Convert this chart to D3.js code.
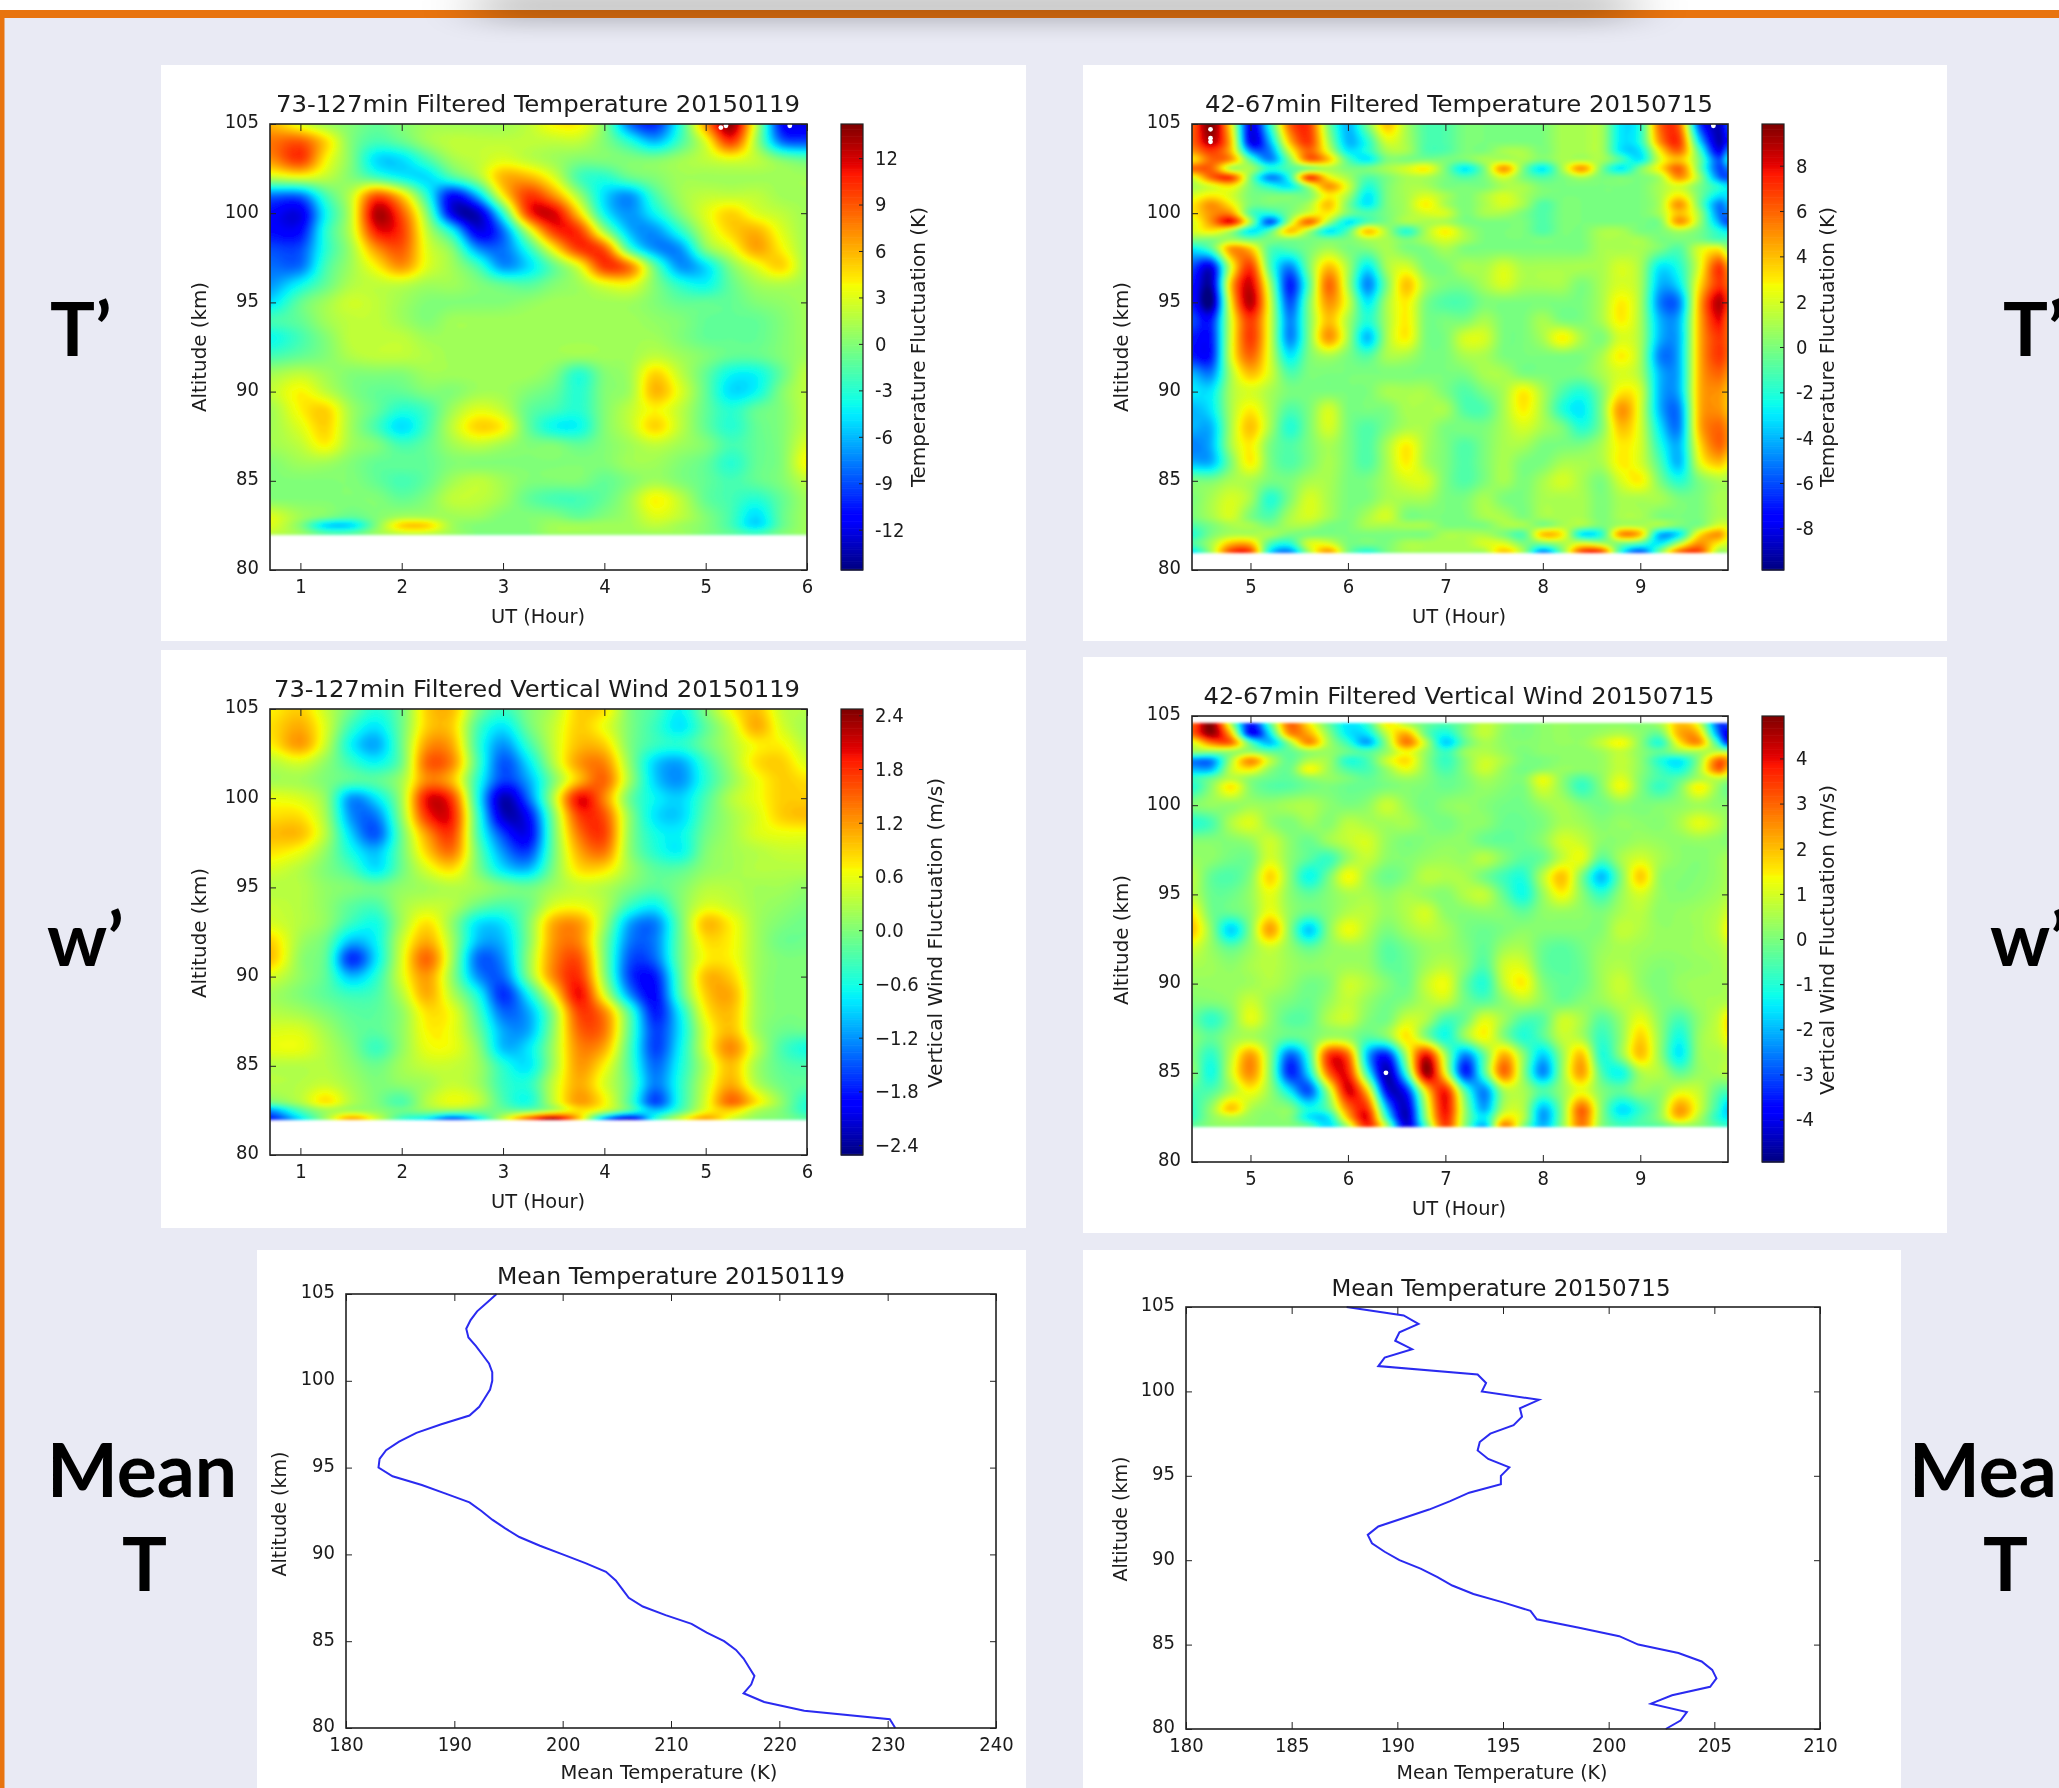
<!DOCTYPE html>
<html>
<head>
<meta charset="utf-8">
<script src="https://cdn.jsdelivr.net/npm/d3@7"></script>
<style>
    body { margin: 0; background: #fff; }
    svg { display: block; }
    text { font-family: "DejaVu Sans Condensed", "DejaVu Sans", sans-serif; fill: #1a1a1a; }
    .side { font-family: Lato, sans-serif; font-weight: 700; fill: #000; font-size: 75px; }
</style>
</head>
<body>
<svg id="page" width="2059" height="1788"></svg>
<script>
// hours of the January panels
const janHours = [0.7, 1, 1.25, 1.5, 1.75, 2, 2.25, 2.5, 2.75, 3, 3.25, 3.5, 3.75, 4, 4.25, 4.5, 4.75, 5, 5.25, 5.5, 5.75, 6];
// hours of the July panels
const julHours = [4.4, 4.6, 4.8, 5, 5.2, 5.4, 5.6, 5.8, 6, 6.2, 6.4, 6.6, 6.8, 7, 7.2, 7.4, 7.6, 7.8, 8, 8.2, 8.4, 8.6, 8.8, 9, 9.2, 9.4, 9.6, 9.8, 9.9];

const janTempAlt = [105, 104, 103, 102, 101, 100, 99, 98, 97, 96, 95, 94, 93, 92, 91, 90, 89, 88, 87, 86, 85, 84, 83, 82.5, 82];
const janTemp = [
    [6, 3, 1, 0, -1, 0, 1, 1, 1, 1, 2, 4, 4, 0, -8, -10, -3, 7, 14, 2, -11, -12],
    [8, 9, 5, 0, -2, -1, 1, 2, 2, 2, 2, 2, 2, 0, -3, -6, -2, 3, 10, 1, -8, -9],
    [7, 10, 4, 0, -5, -5, -2, 1, 2, 3, 2, 1, 0, 0, 0, 0, 1, 2, 3, 2, 0, -1],
    [2, 3, 2, 0, -2, -4, -5, -2, 1, 6, 6, 3, -2, -3, -1, 0, 1, 1, 1, 1, 1, 1],
    [-8, -8, -2, 2, 9, 5, -3, -11, -6, 4, 10, 7, 1, -5, -7, -2, 1, 2, 2, 2, 1, 1],
    [-11, -12, -4, 2, 13, 9, 0, -12, -13, -3, 10, 12, 5, -4, -7, -4, 0, 3, 5, 3, 2, 1],
    [-11, -11, -3, 2, 11, 10, 2, -4, -12, -8, 2, 10, 10, 1, -6, -7, -3, 2, 5, 6, 3, 1],
    [-9, -9, -3, 1, 7, 9, 3, 0, -7, -8, -3, 4, 10, 9, -2, -7, -7, 0, 3, 6.5, 4, 1],
    [-8, -8, -2, 1, 4, 7, 3, 1, -2, -7, -5, -1, 3, 10, 8, -1, -7, -5, 0, 3, 5, 1],
    [-7, -4, -1, 1.5, 2, 2, 1, 1, 0, -1, -1.5, 0, 1, 3, 3.5, 0, -3, -4, -1, 1, 1.5, 1],
    [-5, -1, 1, 2.5, 2, 1, 0, 0, 0, 0, 0.5, 1, 1, 1, 1, 0, -1, -1, -1, 0, 0.5, 1],
    [-2, -1, 1, 2, 2, 1, 0, 1, 1, 1, 1, 1, 1, 1, 1, 0.5, 0, -1, -1, -1, 0, 1],
    [-4, -2, 0, 2, 2, 2, 1, 1, 1, 1, 1, 1, 1, 1, 1, 1, 0, -1, -1, -1, 0, 1],
    [-2, -1, 0, 1.5, 2, 2, 1.5, 1, 1, 1, 1, 1, 1, 1, 1, 2, 1, 0, -1, -1, 0, 1],
    [1, 2, 1, 0, 0, 0, 1, 1, 1, 1, 1, 0, -3, 0, 1, 5, 2, -1, -4, -4, -1, 2],
    [2, 4, 2, 0, -1, -1, 0, 0, 1, 1, 0, -1, -3, 0, 1, 6, 3, -1, -5, -4, 0, 2],
    [1, 4, 5, 1, -1, -3, -2, 1, 3, 2, -1, -2, -3, 0, 2, 4, 2, -1, -3, -1, 0, 2],
    [1, 3, 5, 1, -2, -5, -2, 2, 5, 4, -1, -4, -4, 0, 2, 5, 2, -1, -3, -1, 0, 2],
    [1, 2, 4, 1, 0, -2, -1, 1, 2, 1, 0, 0, -1, 0, 1, 2, 1, 0, -2, -1, 0, 3],
    [0, 1, 1, 0, -1, -1, -1, 0, 0, 0, 0, 0, 0, 0, 1, 1, 0, -1, -3, -1, 0, 4],
    [0, 0, 0, 0, -1, -2, -1, 1, 2, 1, 0, 0, 0, -1, 0, 1, 0, -1, -2, -1, 0, 2],
    [0, 0, 0, 0, 0, -1, 0, 2, 2, 1, -1, -2, -2, -1, 1, 4, 2, -1, -2, -3, -1, 1],
    [3, 1, 0, -1, 0, 1, 1, 1, 1, 0, 0, 0, -1, 0, 1, 3, 2, 0, -2, -5, -1, 1],
    [3, 0, -5, -5, 0, 5, 5, 1, 0, 0, 0, 1, 1, 1, 1, 2, 1, 0, -2, -5, -1, 1],
    [2, 1, -1, -1, 1, 2, 2, 1, 0, 0, 0, 1, 1, 1, 1, 1, 1, 0, -1, -2, 0, 1]
];
// places where the plot shows white specks, [hour, altitude]
const janTempSpecks = [[5.15, 104.8], [5.2, 104.9], [5.83, 104.9]];

const julTempAlt = [105, 104, 103.5, 103, 102.5, 102, 101.5, 101, 100.5, 100, 99.5, 99, 98.5, 98, 97, 96, 95, 94, 93, 92, 91, 90, 89, 88, 87, 86, 85, 84, 83, 82.5, 82, 81.5, 81];
const julTemp = [
    [6, 10, 3, -8, -2, 6, 7, 0, -4, 0, 4, 1, -1, -1, 0, 0, 0, 0, 0, 1, 1, 1, -3, -2, 6, 6, -6, -9, -6],
    [6, 9, 4, -8, -4, 4, 7, 1, -4, -2, 2, 1, -1, -1, 0, 0, 0, 0, 0, 1, 1, 1, -3, -2, 5, 7, -3, -9, -7],
    [5, 7, 4, -5, -5, 2, 6, 2, -3, -2, 1, 1, -1, -1, 0, 0, 1, 1, 0, 1, 1, 1, -3, -3, 3, 6, -1, -8, -5],
    [3, 6, 5, -1, -5, 0, 6, 4, -1, -3, 0, 0, 0, 0, 0, 1, 1, 1, 0, 1, 1, 1, -1, -3, 2, 4, 0, -6, -3],
    [6, 6, 1, 1, -2, -1, 0, 1, 0, 0, 1, 2, 3, 0, -3, 0, 5, 0, -3, 1, 5, 0, -3, 0, 3, 6, 0, -6, -5],
    [2, 6, 7, 0, -5, -2, 7, 3, 1, -1, 0, 1, 1, 0, -1, 0, 2, 0, -1, 0, 1, 0, 0, 0, 1, 5, 1, -5, -6],
    [1, 2, 3, 0, -2, -3, 1, 5, 2, -2, 0, 1, 1, 0, 0, 0, 1, 1, 0, 0, 0, 0, 0, 0, 1, 2, 0, -2, -3],
    [2, 3, 2, 0, 0, 0, 0, 3, 1, -3, 0, 1, 2, 1, 0, 1, 2, 1, 0, 0, 0, 0, 0, 0, 1, 3, 0, -3, -3],
    [3, 5, 3, 0, 0, 0, 1, 4, 0, -3, 0, 1, 3, 1, 0, 1, 2, 1, -1, 0, 0, 0, 0, 0, 1, 5, 0, -5, -4],
    [3, 5, 5, -1, -2, 0, 2, 3, 0, -1, 0, 1, 2, 2, 0, 1, 1, 0, -1, 0, 0, 0, 0, 0, 1, 4, 1, -5, -5],
    [2, 5, 8, 1, -6, 1, 6, 1, -3, -1, 0, 1, 1, 1, 0, 0, 0, 0, -1, 0, 0, 0, 0, 0, 0, 5, 1, -4, -6],
    [2, 3, 1, -3, -1, 4, 1, -3, -1, 4, 1, -2, 1, 3, 1, 0, 0, 0, -1, 0, 0, 1, 1, 0, 0, 1, 0, -2, -3],
    [0, 0, 1, 0, 0, 0, 0, 0, 0, 1, 1, 0, 1, 2, 1, 0, 0, 0, 0, 0, 0, 1, 1, 1, 0, 0, 0, -1, -1],
    [-3, -1, 5, 4, -1, -1, 0, 1, 0, 0, 1, 0, 0, 1, 0, 0, 0, 0, 0, 0, 0, 1, 1, 1, 0, -1, 2, 3, 1],
    [-6, -8, 2, 7, -1, -5, 0, 4, 1, -3, 1, 2, 0, 0, 1, 1, 2, 1, 1, 1, 1, 1, 2, 1, -3, -2, 2, 7, 5],
    [-7, -9, 4, 8.5, 1, -7, -1, 6, 1, -5, 0, 4, 1, 0, 0, 1, 2, 1, 1, 1, 0, 1, 2, 1, -4, -3, 3, 7, 6],
    [-7, -10, 3, 9, 2, -6, 0, 5, 2, -3, 1, 3, 0, -1, -1, 0, 0, 0, 0, 0, 0, 1, 3, 1, -5, -5, 4, 9, 7],
    [-6, -7, 2, 7, 2, -5, 0, 4, 1, -2, 1, 3, 0, 0, 0, 1, 0, 0, 1, 0, 0, 1, 3, 1, -4, -4, 4, 8, 6],
    [-7, -7, 2, 7, 2, -5, 0, 5, 1, -4, 1, 3, 0, 0, 2, 2, 0, 0, 1, 3, 1, 0, 2, 1, -4, -4, 4, 7, 6],
    [-7, -7, 2, 6, 2, -3, 0, 1, 0, -1, 1, 1, 0, 0, 1, 1, 0, 0, 0, 0, 0, 1, 3, 1, -5, -4, 4, 7, 6],
    [-4, -5, 1, 4, 2, -1, 0, 0, 0, 0, 0, 0, 0, 0, 0, 1, 1, 0, 0, 0, 0, 1, 2, 1, -4, -4, 4, 6, 5],
    [-3, -3, 1, 2, 1, 0, 0, 0, 0, 0, 1, 1, 1, 0, -1, 0, 1, 3, 1, -1, -2, 0, 3, 2, -4, -4, 4, 5, 4],
    [-4, -3, 1, 3, 1, -1, 0, 2, 0, 0, 0, 1, 1, 1, -1, -1, 1, 3, 1, -2, -3, 0, 5, 2, -4, -5, 4, 5, 4],
    [-4, -4, 1, 4, 1, -2, 0, 2, 0, -1, 0, 1, 1, 0, 0, 0, 1, 2, 1, 0, -2, 0, 4, 2, -3, -5, 4, 6, 5],
    [-5, -4, 1, 3, 0, -1, 0, 1, 0, -1, 1, 3, 1, 0, -1, 0, 1, 1, 0, 0, 0, 1, 3, 2, -2, -4, 3, 6, 5],
    [-4, -4, 0, 3, 0, -1, 0, 1, 0, -1, 1, 3, 1, 0, -1, 0, 1, 0, 0, 1, 1, 1, 3, 2, -1, -4, 2, 4, 3],
    [0, 0, 1, 1, 0, 0, 1, 1, 0, 0, 1, 2, 2, 0, -1, 0, 1, 0, 1, 2, 1, 0, 2, 3, 0, -2, 0, 1, 1],
    [0, 1, 2, 1, -2, 0, 2, 1, 0, 0, 1, 1, 1, 0, 0, 1, 0, 0, 1, 1, 1, 0, 1, 1, 1, 0, 0, 1, 1],
    [0, 1, 2, 0, -1, 1, 2, 1, 0, 1, 2, 0, 0, 0, 0, 1, 1, 0, 1, 1, 1, 0, 1, 1, 0, 0, 0, 1, 1],
    [-1, 0, 1, 1, 0, 1, 1, 0, 0, 1, 1, 1, 1, 0, 0, 0, 1, 1, 0, 1, 1, 0, 1, 1, 1, 0, 0, 2, 2],
    [-2, 0, 1, 1, 1, 0, 0, 0, 0, 0, 0, 0, 0, 1, 1, 1, 0, -1, 4, 3, -3, -2, 5, 4, -4, -3, 3, 5, 3],
    [-1, 1, 4, 4, -1, -2, 2, 2, 0, 0, 0, 1, 1, 1, 1, 2, 2, 0, 0, 1, 2, 1, 0, -1, -3, 1, 5, 3, 2],
    [-3, 1, 7, 7, -3, -5, 1, 5, 0, -2, 0, 1, 1, 1, 1, 1, 4, 1, -5, 0, 7, 7, -2, -6, 0, 6, 7, 1, 1]
];
const julTempSpecks = [[4.59, 104.7], [4.59, 104.2], [4.59, 104], [9.75, 104.9]];

const janWindAlt = [105, 104, 103, 102, 101, 100, 99, 98, 97, 96, 95, 94, 93, 92, 91, 90, 89, 88, 87, 86, 85, 84, 83, 82.5, 82];
const janWind = [
    [.7, .9, .4, -.1, -.5, -.1, .9, 1, 0, -.4, 0, .3, .9, .8, 0, -.3, -.7, 0, .7, 1, .4, .3],
    [.8, 1.1, .5, -.4, -.8, -.1, .9, .9, -.3, -.8, -.1, .4, .9, .6, 0, -.4, -.8, -.2, .4, 1.1, .5, .2],
    [.7, 1.2, .4, -.7, -1.1, -.1, 1.2, 1.1, -.4, -1.2, -.4, .4, 1, .9, 0, -.4, -.5, -.1, .3, .7, .7, .3],
    [.3, .5, .1, -.4, -.7, -.1, 1.5, 1.3, -.3, -1.5, -.8, .3, 1.2, 1.3, .1, -.9, -1.1, -.4, .2, .8, .9, .5],
    [.2, .2, 0, -.2, -.2, .2, 1.3, 1, -.5, -1.6, -1.1, 0, 1, 1.5, .2, -.9, -1.2, -.5, .1, .6, .9, .8],
    [.6, .5, .1, -1.2, -.8, .2, 2, 1.7, -.6, -2.3, -1.4, .3, 2, 1.3, -.1, -.7, -.9, -.3, .3, .6, .9, .9],
    [.8, .8, .2, -1.2, -1.3, .1, 1.8, 1.9, -.4, -2.2, -1.9, 0, 1.7, 1.6, .1, -.8, -.9, -.2, .2, .5, .9, 1],
    [1, 1, .3, -.9, -1.5, -.1, 1.2, 1.7, -.3, -1.6, -2, -.1, 1.4, 1.7, .1, -.6, -.7, -.1, .2, .5, .6, .6],
    [.8, .6, .1, -.6, -1, -.1, .9, 1.4, -.1, -1.2, -1.6, -.1, 1.1, 1.4, .1, -.5, -.7, 0, .2, .3, .4, .4],
    [.5, .3, 0, -.3, -.8, -.1, .5, .8, 0, -.8, -1, 0, .8, .8, .2, -.2, -.2, .1, .2, .3, .3, .3],
    [.3, .3, .1, 0, -.1, .1, .2, .3, .2, 0, -.1, .2, .4, .3, 0, -.2, 0, .3, .3, .2, .2, .1],
    [.4, .3, .1, -.2, -.3, .2, .4, .3, -.1, -.3, -.1, .5, .6, .3, -.4, -.7, 0, .5, .4, .2, .1, 0],
    [.5, .3, .1, -.4, -.6, .2, .8, .1, -.8, -.8, 0, 1.1, 1.2, .2, -1.1, -1.3, -.1, 1, .7, .2, 0, -.1],
    [.9, .2, -.1, -1, -.7, .4, 1.1, .2, -1, -1, 0, 1.2, 1.3, 0, -1.3, -1.3, -.1, .8, .7, .2, -.1, -.1],
    [1, .1, -.2, -1.7, -.8, .5, 1.5, .2, -1.4, -1.2, .1, 1.3, 1.6, 0, -1.5, -1.4, -.1, .7, .7, .2, 0, 0],
    [.5, .1, -.2, -1, -.5, .5, 1.2, .1, -1.2, -1.4, 0, 1.3, 1.8, .1, -1.6, -1.8, -.2, 1, .9, .2, 0, 0],
    [.2, 0, -.2, -.4, -.3, .3, 1.1, .3, -.6, -1.7, -.7, .7, 2, .5, -1.2, -1.9, -.3, .9, 1.1, .2, 0, 0],
    [.3, .2, 0, -.2, -.2, .1, .8, .6, -.3, -1.4, -1.1, .1, 1.7, 1.3, -.3, -1.8, -.7, .7, 1, .2, 0, 0],
    [.5, .5, .2, -.1, -.2, .1, .7, .6, -.1, -1.1, -1.1, .1, 1.5, 1.4, -.2, -1.6, -.8, .5, 1, .2, -.1, -.1],
    [.6, .6, .3, 0, -.4, .1, .6, .6, .1, -1, -.8, .2, 1.3, 1.1, -.3, -1.6, -.7, .5, 1.3, .4, -.3, -.6],
    [.3, .3, .3, .1, -.1, .2, .4, .4, .2, -.5, -.8, .2, 1.2, .7, -.3, -1.4, -.6, .3, 1, .2, -.2, -.3],
    [.3, .3, .4, .2, 0, .1, .2, .4, .2, -.4, -.5, .4, 1.1, .5, -.2, -1.3, -.5, .4, 1.1, .3, -.1, -.2],
    [0, .3, .8, .3, 0, -.3, .3, .6, .4, -.3, -.6, .4, 1.2, .7, -.3, -1.6, -.5, .5, 1.5, .8, .1, -.5],
    [-1.2, -.3, .2, .2, .1, -.1, .1, .1, 0, -.1, -.1, .3, .8, .4, -.3, -1, -.3, .6, .9, .3, 0, -.5],
    [-1.8, -.8, .2, 1.2, .5, -.4, -.8, -1.6, -.8, .4, 1.6, 2.4, 1, -1.2, -2.2, -.5, .5, 1.2, .5, .1, 0, -.2]
];

const julWindAlt = [104.6, 104, 103.5, 103, 102.5, 102, 101.5, 101, 100, 99, 98, 97, 96, 95, 94, 93, 92, 91, 90, 89, 88, 87, 86, 85, 84, 83, 82.5, 82];
const julWind = [
    [3, 4.9, .5, -3.5, -.5, 3, 1.5, -.3, -1.5, -.8, 1.5, .5, -.2, -.5, 0, .8, .3, 0, .2, .3, .2, .2, .2, .1, .5, 2, 1, -3, -3],
    [3, 4.8, 2, -3.8, -1.5, 2.5, 2.2, .2, -1.5, -1.5, .8, 2.2, -.2, -1.2, 0, .8, .2, 0, .2, .3, .2, .4, .6, .2, -.2, 2.2, 2, -2.5, -4],
    [1, 2.8, 3, -.5, -2, .3, 2.6, .5, -.8, -2.2, .3, 2.8, .7, -1.8, -.3, .5, .2, .1, .2, .3, .3, .8, 1.4, .2, -1, 1.5, 2.5, -1, -3.5],
    [.3, .2, .3, .3, -.3, -.3, .3, .3, -.2, -.5, .3, 1.4, .3, -.8, .3, .6, .3, 0, .2, .2, .2, .4, .8, .2, -.3, .3, .5, .7, .5],
    [-2.5, -2.5, .5, 2.6, .8, -.3, .6, .4, -1, -.6, .9, 1.7, .2, -.8, .1, .9, .5, 0, 0, .2, .2, .3, .8, .2, -1, -1.5, .2, 3, 2.5],
    [-2, -2, .8, 1.5, .2, -.2, 1.4, .4, -.5, -.6, .3, 1.2, .2, -.6, .1, .9, .3, -.1, .2, .3, .2, .3, .8, .2, -.7, -1.2, .4, 3, 2],
    [-.8, -.2, .7, .2, -.2, -.3, .2, .3, 0, -.3, .1, .4, .1, -.3, 0, .5, .2, .1, 1.2, .2, -.5, .2, 1.1, .1, -.6, -.4, .5, .8, .5],
    [-1, .2, 1.6, .1, -.4, -.4, -.1, 0, -.2, -.2, 0, .1, 0, -.2, 0, .3, .1, 0, 1, .2, -.8, .1, 1.3, .1, -.8, 0, 1.5, .3, -.2],
    [.1, .3, .2, .4, .3, .5, .6, .2, 0, .2, .9, .3, -.1, .2, .3, .1, -.1, -.1, .3, .5, .1, -.1, .2, 0, .1, .2, .4, .2, .2],
    [-1, -.6, .6, 1.1, .3, 0, .4, .1, .7, .5, .4, .5, .1, -.1, .2, .2, -.2, -.2, 0, .5, .4, .1, .3, .2, .1, .5, 1.2, .7, .3],
    [.1, .1, .1, .3, .9, .2, -.2, .4, .8, 1, .3, 0, .1, .2, .2, -.2, -.3, -.2, .2, 1, .8, .2, .2, .4, .3, .2, .3, .2, .1],
    [.3, .2, -.1, -.1, 1, .2, -.4, -.8, .3, .8, .2, .1, .3, .4, .3, .7, .1, -.4, -.2, .8, 1.2, -.4, .5, 1, .5, .2, .1, .3, .5],
    [.7, -.3, -.5, .1, 1.8, .2, -1.3, -.1, 1.4, .4, -.2, .1, .7, .6, .5, -.1, -.7, -1, .7, 2, 0, -2, 0, 1.9, .3, .1, .1, .3, .5],
    [.7, -.2, -.2, .3, 1.2, .2, -.3, .1, .5, .5, .2, .5, .3, .1, .6, .8, -.3, -1.2, .3, 1.4, .2, -.8, .3, 1, .3, .1, .2, .4, .6],
    [1.5, -.1, -.2, .2, 1.3, .3, -.2, .1, .6, .7, .3, .6, 1, .2, .1, .2, .1, -.3, .2, .3, .2, 0, .5, .7, .2, .3, .4, .6, 1],
    [2, .2, -1.8, .1, 2.4, .2, -1.9, .1, 1.3, .6, 0, .4, .7, .5, 0, -.2, 0, .2, .1, .1, .1, .1, .8, .6, .3, .3, .4, .7, 1.4],
    [1, .3, -.3, .3, .9, .3, -.3, .2, .4, .3, -.4, -.1, .3, .4, .1, -.3, .4, .5, -.2, -.4, -.1, .3, .5, .4, .3, .3, .4, .5, .8],
    [.5, .4, .2, .5, .7, .4, .2, .3, .4, .3, -.3, -.2, .4, .7, .2, -.5, .9, 1, -.2, -.4, -.2, .4, .6, .3, .1, .2, .3, .4, .6],
    [.3, .3, .3, .4, .6, .3, -.1, .1, .9, .6, .1, -.2, .8, 1.3, -.2, -1, .8, 1.5, .1, -.3, -.2, .4, .9, .3, 0, .3, .4, .4, .5],
    [.1, .1, .3, .9, .3, 0, -.2, .3, .8, .3, -.1, .1, .6, .8, -.1, -.4, .2, .7, .2, -.2, .1, .3, .7, .6, .1, .1, .4, .5, .6],
    [-.2, -.9, 0, 1.2, .3, -.4, -.3, .6, .9, .1, -.1, .9, .6, -.6, -.2, 1.1, .4, -.5, -.4, .9, .5, -.4, .3, 1.2, .2, -.6, .2, .8, 1.6],
    [.1, -.3, .3, .5, .1, -.3, -.1, .4, .3, -.4, .1, 1.6, .1, -1.2, .3, 1.4, .1, -1, -.4, .8, .5, -.8, .2, 1.8, .3, -1.2, .3, .8, 1.4],
    [0, -.9, .7, 2.4, .2, -2.8, -.8, 3.5, 3, -2, -3.5, .5, 4, .5, -2.5, -.3, 2.2, .2, -1.8, .3, 2, -1, .2, 2, .3, -1.5, .3, .5, .7],
    [.2, -1.2, .9, 2.6, .2, -3.4, -1.5, 3, 3.8, -1, -4.6, -.8, 4.8, 1.2, -3.5, -.5, 3, .2, -2.5, .3, 2.4, -.5, -1.3, .5, .6, -.3, .3, .5, .7],
    [-.5, -.5, .5, 1.4, .3, -1.5, -3, .5, 4.2, 1.8, -4, -3.5, 1.5, 3.8, -.5, -2.5, .5, .5, -.5, .3, 1.2, .1, -.3, .3, .2, 1, .8, -.3, -.5],
    [-.8, .3, 2, .6, .2, .1, -1.2, -.3, 2.8, 3.5, -2, -4.4, .5, 4, .3, -2.2, .6, .6, -2, .1, 3, .2, -1.6, -.8, .2, 2.4, 1, -.8, -1.8],
    [-.8, .2, .7, .3, .1, .1, -1.5, -1.5, 2, 4, -1, -4.5, .2, 3.8, .3, -1.5, 1.5, .7, -2.3, .1, 3, .2, -1.2, -.6, .2, 2, .6, -1, -1.5],
    [-.3, .2, .3, .2, .1, .1, -.3, -1.6, .6, 3.8, .5, -4.2, -.5, 3.5, .2, -2, 2.8, .2, -2, .2, 2.8, .2, -.6, -.5, -.3, .3, .2, -.5, -.8]
];
const julWindSpecks = [[6.39, 85]];

// mean temperature profiles, one value every 0.5 km from 105 down to 80
const meanAlt = [105, 104.5, 104, 103.5, 103, 102.5, 102, 101.5, 101, 100.5, 100, 99.5, 99, 98.5, 98, 97.5, 97, 96.5, 96, 95.5, 95, 94.5, 94, 93.5, 93, 92.5, 92, 91.5, 91, 90.5, 90, 89.5, 89, 88.5, 88, 87.5, 87, 86.5, 86, 85.5, 85, 84.5, 84, 83.5, 83, 82.5, 82, 81.5, 81, 80.5, 80];
const meanJan = [193.9, 193, 192.1, 191.5, 191.1, 191.3, 192, 192.6, 193.2, 193.5, 193.5, 193.3, 192.8, 192.3, 191.4, 188.8, 186.5, 184.9, 183.7, 183.1, 183, 184.3, 187, 189.2, 191.4, 192.5, 193.5, 194.7, 196, 197.9, 200, 202.1, 204, 204.9, 205.5, 206.1, 207.4, 209.5, 211.9, 213.3, 214.9, 216, 216.7, 217.2, 217.7, 217.4, 216.7, 218.6, 222.3, 230.2, 230.7];
const meanJul = [187.6, 190.3, 191, 190.1, 189.9, 190.7, 189.4, 189.1, 193.8, 194.2, 194, 196.7, 195.8, 195.9, 195.5, 194.4, 193.9, 193.8, 194.3, 195.3, 194.9, 194.9, 193.4, 192.5, 191.5, 190.3, 189.1, 188.6, 188.8, 189.4, 190.1, 191.1, 191.9, 192.6, 193.6, 195, 196.3, 196.6, 198.6, 200.5, 201.4, 203.3, 204.4, 204.9, 205.1, 204.8, 203, 202, 203.7, 203.4, 202.7];

const altTicks = [80, 85, 90, 95, 100, 105];
const janHourTicks = [1, 2, 3, 4, 5, 6];
const julHourTicks = [5, 6, 7, 8, 9];
const janTempTicks = [-12, -9, -6, -3, 0, 3, 6, 9, 12];
const julTempTicks = [-8, -6, -4, -2, 0, 2, 4, 6, 8];
const janWindTicks = ['-2.4', '-1.8', '-1.2', '-0.6', '0.0', '0.6', '1.2', '1.8', '2.4'];
const julWindTicks = [-4, -3, -2, -1, 0, 1, 2, 3, 4];
const janMeanTicks = [180, 190, 200, 210, 220, 230, 240];
const julMeanTicks = [180, 185, 190, 195, 200, 205, 210];

// matplotlib jet
const jet = d3.scaleLinear()
    .domain([0, .11, .125, .34, .35, .375, .64, .65, .66, .89, .91, 1])
    .range(['#00007f', '#0000ff', '#0000ff', '#00e5ff', '#00ebff', '#0cffeb', '#f7ff00', '#ffee00', '#ffe600', '#ff1600', '#e30000', '#7f0000']);

const zoomFactor = 4;

let svg = d3.select('#page');
let defs = svg.append('defs');
defs.append('filter').attr('id', 'soft').attr('x', '-5%').attr('y', '-5%').attr('width', '110%').attr('height', '110%')
    .append('feGaussianBlur').attr('stdDeviation', 1.6);
defs.append('filter').attr('id', 'shadow').attr('x', '-10%').attr('y', '-200%').attr('width', '120%').attr('height', '500%')
    .append('feGaussianBlur').attr('stdDeviation', '30 10');
defs.append('filter').attr('id', 'print').append('feGaussianBlur').attr('stdDeviation', 0.45);

drawPage();

drawHeatmap({
    id: 'a', left: 270, right: 807, top: 124, bottom: 570, hours: janHours, alts: janTempAlt, grid: janTemp, specks: janTempSpecks,
    xDomain: [0.7, 6], hourTicks: janHourTicks, vmin: -14.6, vmax: 14.2, cbX: 841, cbTicks: janTempTicks,
    title: '73-127min Filtered Temperature 20150119', titleX: 538, titleY: 104, titleLen: 524,
    xlabelX: 538, xlabelY: 616, ylabelX: 199, ylabelY: 347, cbLabel: 'Temperature Fluctuation (K)', cbLabelX: 918, cbLabelY: 347, cbLabelLen: 280
});
drawHeatmap({
    id: 'b', left: 1192, right: 1728, top: 124, bottom: 570, hours: julHours, alts: julTempAlt, grid: julTemp, specks: julTempSpecks,
    xDomain: [4.4, 9.9], hourTicks: julHourTicks, vmin: -9.84, vmax: 9.84, cbX: 1762, cbTicks: julTempTicks,
    title: '42-67min Filtered Temperature 20150715', titleX: 1459, titleY: 104, titleLen: 508,
    xlabelX: 1459, xlabelY: 616, ylabelX: 1121, ylabelY: 347, cbLabel: 'Temperature Fluctuation (K)', cbLabelX: 1827, cbLabelY: 347, cbLabelLen: 280
});
drawHeatmap({
    id: 'c', left: 270, right: 807, top: 709, bottom: 1155, hours: janHours, alts: janWindAlt, grid: janWind, specks: [],
    xDomain: [0.7, 6], hourTicks: janHourTicks, vmin: -2.51, vmax: 2.47, cbX: 841, cbTicks: janWindTicks,
    title: '73-127min Filtered Vertical Wind 20150119', titleX: 537, titleY: 689, titleLen: 526,
    xlabelX: 538, xlabelY: 1201, ylabelX: 199, ylabelY: 933, cbLabel: 'Vertical Wind Fluctuation (m/s)', cbLabelX: 935, cbLabelY: 933, cbLabelLen: 310
});
drawHeatmap({
    id: 'd', left: 1192, right: 1728, top: 716, bottom: 1162, hours: julHours, alts: julWindAlt, grid: julWind, specks: julWindSpecks,
    xDomain: [4.4, 9.9], hourTicks: julHourTicks, vmin: -4.94, vmax: 4.94, cbX: 1762, cbTicks: julWindTicks,
    title: '42-67min Filtered Vertical Wind 20150715', titleX: 1459, titleY: 696, titleLen: 511,
    xlabelX: 1459, xlabelY: 1208, ylabelX: 1121, ylabelY: 940, cbLabel: 'Vertical Wind Fluctuation (m/s)', cbLabelX: 1827, cbLabelY: 940, cbLabelLen: 310
});

drawProfile({
    left: 346, right: 996, top: 1294, bottom: 1728, temps: meanJan, xDomain: [180, 240], xTicks: janMeanTicks,
    title: 'Mean Temperature 20150119', titleX: 671, titleY: 1276, titleLen: 348,
    xlabelX: 669, xlabelY: 1772, xlabelLen: 217, ylabelX: 279, ylabelY: 1514
});
drawProfile({
    left: 1186, right: 1820, top: 1307, bottom: 1729, temps: meanJul, xDomain: [180, 210], xTicks: julMeanTicks,
    title: 'Mean Temperature 20150715', titleX: 1501, titleY: 1288, titleLen: 339,
    xlabelX: 1502, xlabelY: 1772, xlabelLen: 211, ylabelX: 1120, ylabelY: 1519
});

function drawPage() {
    svg.append('rect').attr('y', 18).attr('width', 2059).attr('height', 1770).attr('fill', '#e9eaf4');
    svg.append('rect').attr('y', 10).attr('width', 2059).attr('height', 8).attr('fill', '#e8740f');
    svg.append('rect').attr('y', 10).attr('width', 4.5).attr('height', 1778).attr('fill', '#e8740f');
    svg.append('rect').attr('x', 480).attr('y', -12).attr('width', 1150).attr('height', 36)
        .attr('fill', '#000').attr('opacity', .2).attr('filter', 'url(#shadow)');

    let cards = [[161, 65, 865, 576], [1083, 65, 864, 576], [161, 650, 865, 578], [1083, 657, 864, 576], [257, 1250, 769, 538], [1083, 1250, 818, 538]];
    svg.selectAll('rect.card').data(cards).join('rect').attr('class', 'card')
        .attr('x', d => d[0]).attr('y', d => d[1]).attr('width', d => d[2]).attr('height', d => d[3])
        .attr('fill', '#fff');

    let sides = [['T’', 50, 356], ['w’', 47, 966], ['Mean', 47, 1497], ['T', 122, 1591], ['T’', 2003, 356], ['w’', 1990, 966], ['Mean', 1909, 1497], ['T', 1983, 1591]];
    svg.selectAll('text.side').data(sides).join('text').attr('class', 'side')
        .attr('x', d => d[1]).attr('y', d => d[2]).text(d => d[0]);
}

function label(text, x, y, size, len, rotate) {
    let t = svg.append('text')
        .attr('text-anchor', 'middle')
        .attr('dominant-baseline', 'central')
        .attr('font-size', size)
        .attr('filter', 'url(#print)')
        .attr('transform', `translate(${x}, ${y})` + (rotate ? ' rotate(-90)' : ''))
        .text(text);
    if (len) t.attr('textLength', len).attr('lengthAdjust', 'spacingAndGlyphs');
}

// inward ticks on all four sides plus the outside tick labels
function drawFrame(opt, xScale, yScale, xTicks) {
    let g = svg.append('g');
    let bottom = d3.axisBottom(xScale).tickValues(xTicks).tickFormat(d3.format('d')).tickSize(-7).tickPadding(9);
    let left = d3.axisLeft(yScale).tickValues(altTicks).tickFormat(d3.format('d')).tickSize(-6).tickPadding(11);
    let top = d3.axisTop(xScale).tickValues(xTicks).tickFormat('').tickSize(-7);
    let right = d3.axisRight(yScale).tickValues(altTicks).tickFormat('').tickSize(-6);
    g.append('g').attr('transform', `translate(0, ${opt.bottom})`).call(bottom);
    let leftAxis = g.append('g').attr('transform', `translate(${opt.left}, 0)`).call(left);
    leftAxis.selectAll('.tick text').attr('y', -2.5);
    g.append('g').attr('transform', `translate(0, ${opt.top})`).call(top);
    g.append('g').attr('transform', `translate(${opt.right}, 0)`).call(right);
    g.selectAll('.domain').remove();
    g.selectAll('.tick line').attr('stroke', '#222').attr('stroke-width', 1);
    g.selectAll('.tick text').attr('font-size', 20).attr('font-family', null).attr('filter', 'url(#print)');
    g.append('rect')
        .attr('x', opt.left).attr('y', opt.top)
        .attr('width', opt.right - opt.left).attr('height', opt.bottom - opt.top)
        .attr('fill', 'none').attr('stroke', '#222').attr('stroke-width', 1.6);
}

// Catmull-Rom along one list of values, only for drawing between the read values
function refine(vals) {
    let out = [], n = vals.length;
    for (let i = 0; i < n - 1; i++) {
        let p0 = vals[Math.max(i - 1, 0)], p1 = vals[i], p2 = vals[i + 1], p3 = vals[Math.min(i + 2, n - 1)];
        for (let k = 0; k < zoomFactor; k++) {
            let t = k / zoomFactor;
            out.push(.5 * (2 * p1 + (p2 - p0) * t + (2 * p0 - 5 * p1 + 4 * p2 - p3) * t * t + (3 * p1 - p0 - 3 * p2 + p3) * t * t * t));
        }
    }
    out.push(vals[n - 1]);
    return out;
}

function refineGrid(grid) {
    let wide = grid.map(refine);
    let columns = d3.transpose(wide).map(refine);
    return d3.transpose(columns);
}

function drawHeatmap(opt) {
    let xScale = d3.scaleLinear().domain(opt.xDomain).range([opt.left, opt.right]);
    let yScale = d3.scaleLinear().domain([80, 105]).range([opt.bottom, opt.top]);
    let fine = refineGrid(opt.grid);
    let rows = fine.length, cols = fine[0].length;

    // contour space to pixels through the hour and altitude lists, which need not be evenly spaced
    let hourAt = d3.scaleLinear().domain(opt.hours.map((d, i) => i)).range(opt.hours);
    let altAt = d3.scaleLinear().domain(opt.alts.map((d, i) => i)).range(opt.alts);
    let yLow = yScale(opt.alts[opt.alts.length - 1]);
    let yHigh = opt.alts[0] === 105 ? opt.top - 20 : yScale(opt.alts[0]);
    let path = d3.geoPath(d3.geoTransform({
        point: function (x, y) {
            let px = xScale(hourAt((x - .5) / zoomFactor));
            let py = yScale(altAt((y - .5) / zoomFactor));
            this.stream.point(px, Math.max(yHigh, Math.min(yLow, py)));
        }
    }));

    let colorScale = d3.scaleLinear().domain([opt.vmin, opt.vmax]).range([0, 1]);
    let flat = fine.flat();
    let step = (opt.vmax - opt.vmin) / 110;
    let levels = d3.range(Math.min(opt.vmin, d3.min(flat)) - step, opt.vmax, step);
    let contours = d3.contours().size([cols, rows]).thresholds(levels)(flat);

    defs.append('clipPath').attr('id', 'clip-' + opt.id)
        .append('rect').attr('x', opt.left).attr('y', opt.top)
        .attr('width', opt.right - opt.left).attr('height', opt.bottom - opt.top);

    let plot = svg.append('g').attr('clip-path', `url(#clip-${opt.id})`);
    plot.append('g').attr('filter', 'url(#soft)')
        .selectAll('path').data(contours).join('path')
        .attr('d', path)
        .attr('fill', d => jet(Math.max(0, colorScale(d.value + step / 2))));
    plot.selectAll('circle').data(opt.specks).join('circle')
        .attr('cx', d => xScale(d[0]))
        .attr('cy', d => yScale(d[1]))
        .attr('r', 2.4)
        .attr('fill', '#fff');

    drawFrame(opt, xScale, yScale, opt.hourTicks);
    label(opt.title, opt.titleX, opt.titleY, 23, opt.titleLen);
    label('UT (Hour)', opt.xlabelX, opt.xlabelY, 20, 94);
    label('Altitude (km)', opt.ylabelX, opt.ylabelY, 19, 130, true);
    label(opt.cbLabel, opt.cbLabelX, opt.cbLabelY, 19, opt.cbLabelLen, true);
    drawColorbar(opt);
}

function drawColorbar(opt) {
    let width = 22;
    let scale = d3.scaleLinear().domain([opt.vmin, opt.vmax]).range([opt.bottom, opt.top]);
    let bands = d3.range(0, 256);
    let band = (opt.bottom - opt.top) / 256;
    svg.append('g').selectAll('rect').data(bands).join('rect')
        .attr('x', opt.cbX)
        .attr('y', d => scale(opt.vmin + (d + 1) / 256 * (opt.vmax - opt.vmin)))
        .attr('width', width)
        .attr('height', band + .6)
        .attr('fill', d => jet((d + .5) / 256));
    let axis = d3.axisRight(scale)
        .tickValues(opt.cbTicks.map(Number))
        .tickFormat((d, i) => String(opt.cbTicks[i]).replace(/^-(?=\d\.)/, '\u2212'))
        .tickSize(-4).tickPadding(12);
    let g = svg.append('g').attr('transform', `translate(${opt.cbX + width}, 0)`).call(axis);
    g.select('.domain').remove();
    g.selectAll('.tick line').attr('stroke', '#222');
    g.selectAll('.tick text').attr('font-size', 20).attr('font-family', null).attr('filter', 'url(#print)');
    svg.append('rect').attr('x', opt.cbX).attr('y', opt.top).attr('width', width).attr('height', opt.bottom - opt.top)
        .attr('fill', 'none').attr('stroke', '#222').attr('stroke-width', 1.2);
}

function drawProfile(opt) {
    let xScale = d3.scaleLinear().domain(opt.xDomain).range([opt.left, opt.right]);
    let yScale = d3.scaleLinear().domain([80, 105]).range([opt.bottom, opt.top]);
    let lineGen = d3.line()
        .x(d => xScale(d[0]))
        .y(d => yScale(d[1]));
    svg.append('path')
        .attr('d', lineGen(opt.temps.map((t, i) => [t, meanAlt[i]])))
        .attr('fill', 'none')
        .attr('stroke', '#2a2af0')
        .attr('stroke-width', 2)
        .attr('filter', 'url(#print)');
    drawFrame(opt, xScale, yScale, opt.xTicks);
    label(opt.title, opt.titleX, opt.titleY, 23, opt.titleLen);
    label('Mean Temperature (K)', opt.xlabelX, opt.xlabelY, 20, opt.xlabelLen);
    label('Altitude (km)', opt.ylabelX, opt.ylabelY, 19, 125, true);
}
</script>
</body>
</html>
